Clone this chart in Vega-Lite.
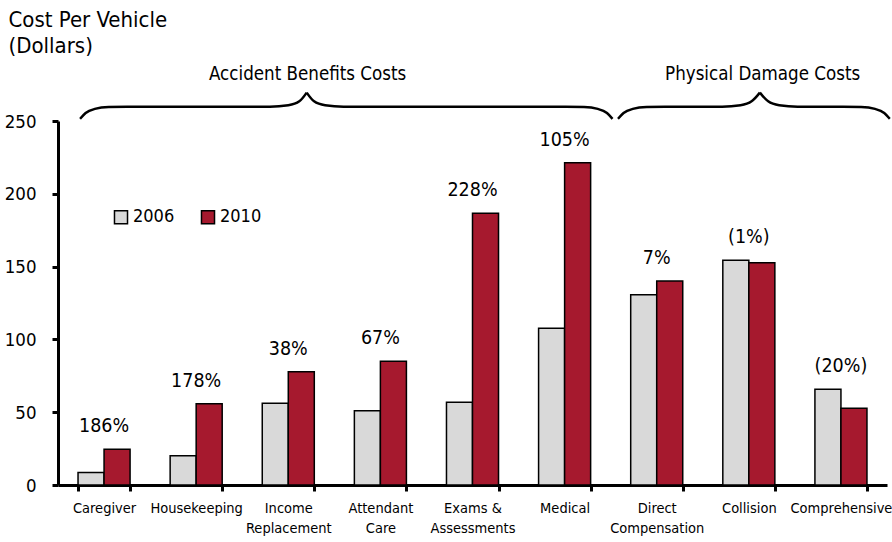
{
  "$schema": "https://vega.github.io/schema/vega-lite/v6.json",
  "width": 829,
  "height": 364,
  "autosize": {"type": "none"},
  "padding": {"left": 58, "top": 121, "right": 5, "bottom": 57},
  "background": "white",
  "config": {
    "view": {"stroke": null},
    "font": "DejaVu Sans Condensed, sans-serif",
    "text": {"color": "black"}
  },
  "datasets": {
    "costs": [
      {"cat": "Caregiver", "year": "2006", "value": 8.6, "pct": "186%"},
      {"cat": "Caregiver", "year": "2010", "value": 24.5, "pct": "186%"},
      {"cat": "Housekeeping", "year": "2006", "value": 20.1, "pct": "178%"},
      {"cat": "Housekeeping", "year": "2010", "value": 55.8, "pct": "178%"},
      {"cat": "Income|Replacement", "year": "2006", "value": 56.1, "pct": "38%"},
      {"cat": "Income|Replacement", "year": "2010", "value": 77.8, "pct": "38%"},
      {"cat": "Attendant|Care", "year": "2006", "value": 51.0, "pct": "67%"},
      {"cat": "Attendant|Care", "year": "2010", "value": 85.0, "pct": "67%"},
      {"cat": "Exams &|Assessments", "year": "2006", "value": 56.8, "pct": "228%"},
      {"cat": "Exams &|Assessments", "year": "2010", "value": 186.6, "pct": "228%"},
      {"cat": "Medical", "year": "2006", "value": 107.6, "pct": "105%"},
      {"cat": "Medical", "year": "2010", "value": 221.4, "pct": "105%"},
      {"cat": "Direct|Compensation", "year": "2006", "value": 130.7, "pct": "7%"},
      {"cat": "Direct|Compensation", "year": "2010", "value": 140.1, "pct": "7%"},
      {"cat": "Collision", "year": "2006", "value": 154.3, "pct": "(1%)"},
      {"cat": "Collision", "year": "2010", "value": 152.7, "pct": "(1%)"},
      {"cat": "Comprehensive", "year": "2006", "value": 65.7, "pct": "(20%)"},
      {"cat": "Comprehensive", "year": "2010", "value": 52.7, "pct": "(20%)"}
    ],
    "braces": [
      {"part": "a1", "u": 0.24, "v": 251.5},
      {"part": "a1", "u": 0.30, "v": 255.5},
      {"part": "a1", "u": 0.40, "v": 258.3},
      {"part": "a1", "u": 0.55, "v": 259.6},
      {"part": "a1", "u": 0.75, "v": 259.8},
      {"part": "a1", "u": 2.30, "v": 259.8},
      {"part": "a1", "u": 2.50, "v": 260.8},
      {"part": "a1", "u": 2.62, "v": 263.5},
      {"part": "a1", "u": 2.70, "v": 269.5},
      {"part": "a2", "u": 2.70, "v": 269.5},
      {"part": "a2", "u": 2.78, "v": 263.5},
      {"part": "a2", "u": 2.90, "v": 260.8},
      {"part": "a2", "u": 3.10, "v": 259.8},
      {"part": "a2", "u": 5.51, "v": 259.8},
      {"part": "a2", "u": 5.71, "v": 259.6},
      {"part": "a2", "u": 5.86, "v": 258.3},
      {"part": "a2", "u": 5.96, "v": 255.5},
      {"part": "a2", "u": 6.02, "v": 251.5},
      {"part": "p1", "u": 6.08, "v": 251.5},
      {"part": "p1", "u": 6.14, "v": 255.5},
      {"part": "p1", "u": 6.24, "v": 258.3},
      {"part": "p1", "u": 6.39, "v": 259.6},
      {"part": "p1", "u": 6.59, "v": 259.8},
      {"part": "p1", "u": 7.21, "v": 259.8},
      {"part": "p1", "u": 7.41, "v": 260.8},
      {"part": "p1", "u": 7.53, "v": 263.5},
      {"part": "p1", "u": 7.62, "v": 269.5},
      {"part": "p2", "u": 7.62, "v": 269.5},
      {"part": "p2", "u": 7.71, "v": 263.5},
      {"part": "p2", "u": 7.83, "v": 260.8},
      {"part": "p2", "u": 8.03, "v": 259.8},
      {"part": "p2", "u": 8.52, "v": 259.8},
      {"part": "p2", "u": 8.72, "v": 259.6},
      {"part": "p2", "u": 8.87, "v": 258.3},
      {"part": "p2", "u": 8.97, "v": 255.5},
      {"part": "p2", "u": 9.03, "v": 251.5}
    ],
    "groups": [
      {"u": 2.71, "v": 278, "label": "Accident Benefits Costs"},
      {"u": 7.65, "v": 278, "label": "Physical Damage Costs"}
    ]
  },
  "layer": [
    {
      "layer": [
        {
          "data": {"name": "costs"},
          "mark": {"type": "bar", "stroke": "black", "strokeWidth": 1.5},
          "encoding": {
            "x": {
              "field": "cat", "type": "nominal", "sort": null,
              "scale": {"paddingInner": 0.435, "paddingOuter": 0.2175},
              "axis": {
                "title": null,
                "labelExpr": "split(datum.label, '|')",
                "labelAngle": 0,
                "labelFontSize": 14.5,
                "labelLineHeight": 20,
                "labelColor": "black",
                "labelBaseline": "top",
                "labelPadding": 10,
                "tickBand": "extent",
                "tickSize": 6,
                "tickWidth": 3,
                "tickColor": "black",
                "domainWidth": 3,
                "domainColor": "black"
              }
            },
            "xOffset": {"field": "year", "type": "nominal", "scale": {"paddingInner": 0, "paddingOuter": 0}},
            "y": {
              "field": "value", "type": "quantitative",
              "scale": {"domain": [0, 250], "nice": false},
              "axis": {
                "title": ["Cost Per Vehicle", "(Dollars)"],
                "titleAngle": 0,
                "titleAlign": "left",
                "titleBaseline": "top",
                "titleX": -50,
                "titleY": -112,
                "titleFontSize": 22,
                "titleFontWeight": "normal",
                "titleLineHeight": 26,
                "titleColor": "black",
                "values": [0, 50, 100, 150, 200, 250],
                "grid": false,
                "domainColor": "black",
                "domainWidth": 3,
                "tickColor": "black",
                "tickWidth": 3,
                "tickSize": 6,
                "labelFontSize": 18.5,
                "labelColor": "black",
                "labelPadding": 16
              }
            },
            "color": {
              "field": "year", "type": "nominal",
              "scale": {"domain": ["2006", "2010"], "range": ["#D9D9D9", "#A6192E"]},
              "legend": {
                "title": null,
                "orient": "none",
                "legendX": 54,
                "legendY": 87,
                "direction": "horizontal",
                "symbolType": "square",
                "symbolSize": 170,
                "symbolStrokeColor": "black",
                "symbolStrokeWidth": 1.5,
                "labelFontSize": 18,
                "labelColor": "black",
                "labelOffset": 3,
                "columnPadding": 23,
                "padding": 0
              }
            }
          }
        },
        {
          "data": {"name": "costs"},
          "transform": [
            {"aggregate": [{"op": "max", "field": "value", "as": "top"}], "groupby": ["cat", "pct"]}
          ],
          "mark": {"type": "text", "baseline": "alphabetic", "dy": -17, "fontSize": 19.5, "color": "black"},
          "encoding": {
            "x": {"field": "cat", "type": "nominal", "sort": null},
            "y": {"field": "top", "type": "quantitative"},
            "text": {"field": "pct"}
          }
        }
      ]
    },
    {
      "layer": [
        {
          "data": {"name": "braces"},
          "mark": {"type": "line", "color": "black", "strokeWidth": 2.5, "interpolate": "monotone"},
          "encoding": {
            "x": {"field": "u", "type": "quantitative", "scale": {"domain": [0, 9], "nice": false, "zero": false}, "axis": null},
            "y": {"field": "v", "type": "quantitative"},
            "detail": {"field": "part"}
          }
        },
        {
          "data": {"name": "groups"},
          "mark": {"type": "text", "baseline": "alphabetic", "fontSize": 18.6, "color": "black"},
          "encoding": {
            "x": {"field": "u", "type": "quantitative"},
            "y": {"field": "v", "type": "quantitative"},
            "text": {"field": "label"}
          }
        }
      ]
    }
  ],
  "resolve": {"scale": {"x": "independent"}}
}
